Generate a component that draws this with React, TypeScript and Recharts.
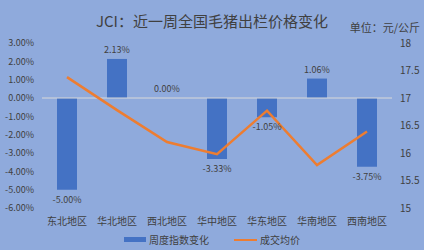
import { ComposedChart, Bar, Line, XAxis, YAxis, ReferenceLine } from "recharts";

const regions = ["东北地区", "华北地区", "西北地区", "华中地区", "华东地区", "华南地区", "西南地区"];
const weeklyChange = [-0.05, 0.0213, 0.0, -0.0333, -0.0105, 0.0106, -0.0375];
const avgPrice = [17.38, 16.78, 16.2, 15.98, 16.77, 15.78, 16.39];
const leftTicks = [0.03, 0.02, 0.01, 0, -0.01, -0.02, -0.03, -0.04, -0.05, -0.06];
const rightTicks = [15, 15.5, 16, 16.5, 17, 17.5, 18];

const data = regions.map((r, i) => ({ name: r, change: weeklyChange[i], price: avgPrice[i] }));

const font = "'Noto Sans CJK SC', 'Noto Sans', sans-serif";
const textColor = "#404040";

const pct = (v: number) => (v * 100).toFixed(2) + "%";

// labels hang off an invisible line so the zero bar still gets one
function ChangeLabel(props: any) {
    const { x, y, value } = props;
    const ty = value < 0 ? y + 13 : y - 6;
    return (
        <text x={x} y={ty} textAnchor="middle" fontSize={9} fill={textColor} fontFamily={font}>
            {pct(value)}
        </text>
    );
}

export default function App() {
    return (
        <div style={{ position: "fixed", left: 0, top: 0, width: 424, height: 250, background: "#8FAADC", fontFamily: font }}>
            <div style={{ position: "absolute", top: 10, left: 0, width: 424, textAlign: "center", fontSize: 15, color: textColor }}>
                JCI：近一周全国毛猪出栏价格变化
            </div>
            <div style={{ position: "absolute", top: 21, right: 4, fontSize: 11, lineHeight: "12px", color: textColor }}>
                单位：元/公斤
            </div>
            <ComposedChart width={424} height={250} data={data} margin={{ top: 43, right: 0, bottom: 2, left: 0 }} style={{ position: "absolute", left: 0, top: 0 }}>
                <XAxis dataKey="name" height={40} axisLine={false} tickLine={false} interval={0} tick={{ fontSize: 10, fill: textColor, fontFamily: font }} tickMargin={4} />
                <YAxis yAxisId="left" domain={[-0.06, 0.03]} ticks={leftTicks} interval={0} tickFormatter={pct} width={42} axisLine={false} tickLine={false} tick={{ fontSize: 9, fill: textColor, fontFamily: font }} />
                <YAxis yAxisId="right" orientation="right" domain={[15, 18]} ticks={rightTicks} interval={0} width={32} axisLine={false} tickLine={false} tick={{ fontSize: 10, fill: textColor, fontFamily: font }} />
                <ReferenceLine yAxisId="left" y={0} stroke="#D9D9D9" strokeWidth={1} />
                <Bar yAxisId="left" dataKey="change" fill="#4472C4" barSize={20} isAnimationActive={false} />
                <Line yAxisId="left" dataKey="change" stroke="none" dot={false} activeDot={false} legendType="none" label={ChangeLabel} isAnimationActive={false} />
                <Line yAxisId="right" dataKey="price" stroke="#ED7D31" strokeWidth={2.5} dot={false} isAnimationActive={false} />
            </ComposedChart>
            <div style={{ position: "absolute", top: 232, left: 0, width: 424, display: "flex", justifyContent: "center", alignItems: "center", fontSize: 10, color: textColor }}>
                <span style={{ display: "inline-block", width: 22, height: 5, background: "#4472C4", marginRight: 3 }} />
                <span style={{ marginRight: 25 }}>周度指数变化</span>
                <span style={{ display: "inline-block", width: 23, height: 2, background: "#ED7D31", marginRight: 3 }} />
                <span>成交均价</span>
            </div>
        </div>
    );
}
